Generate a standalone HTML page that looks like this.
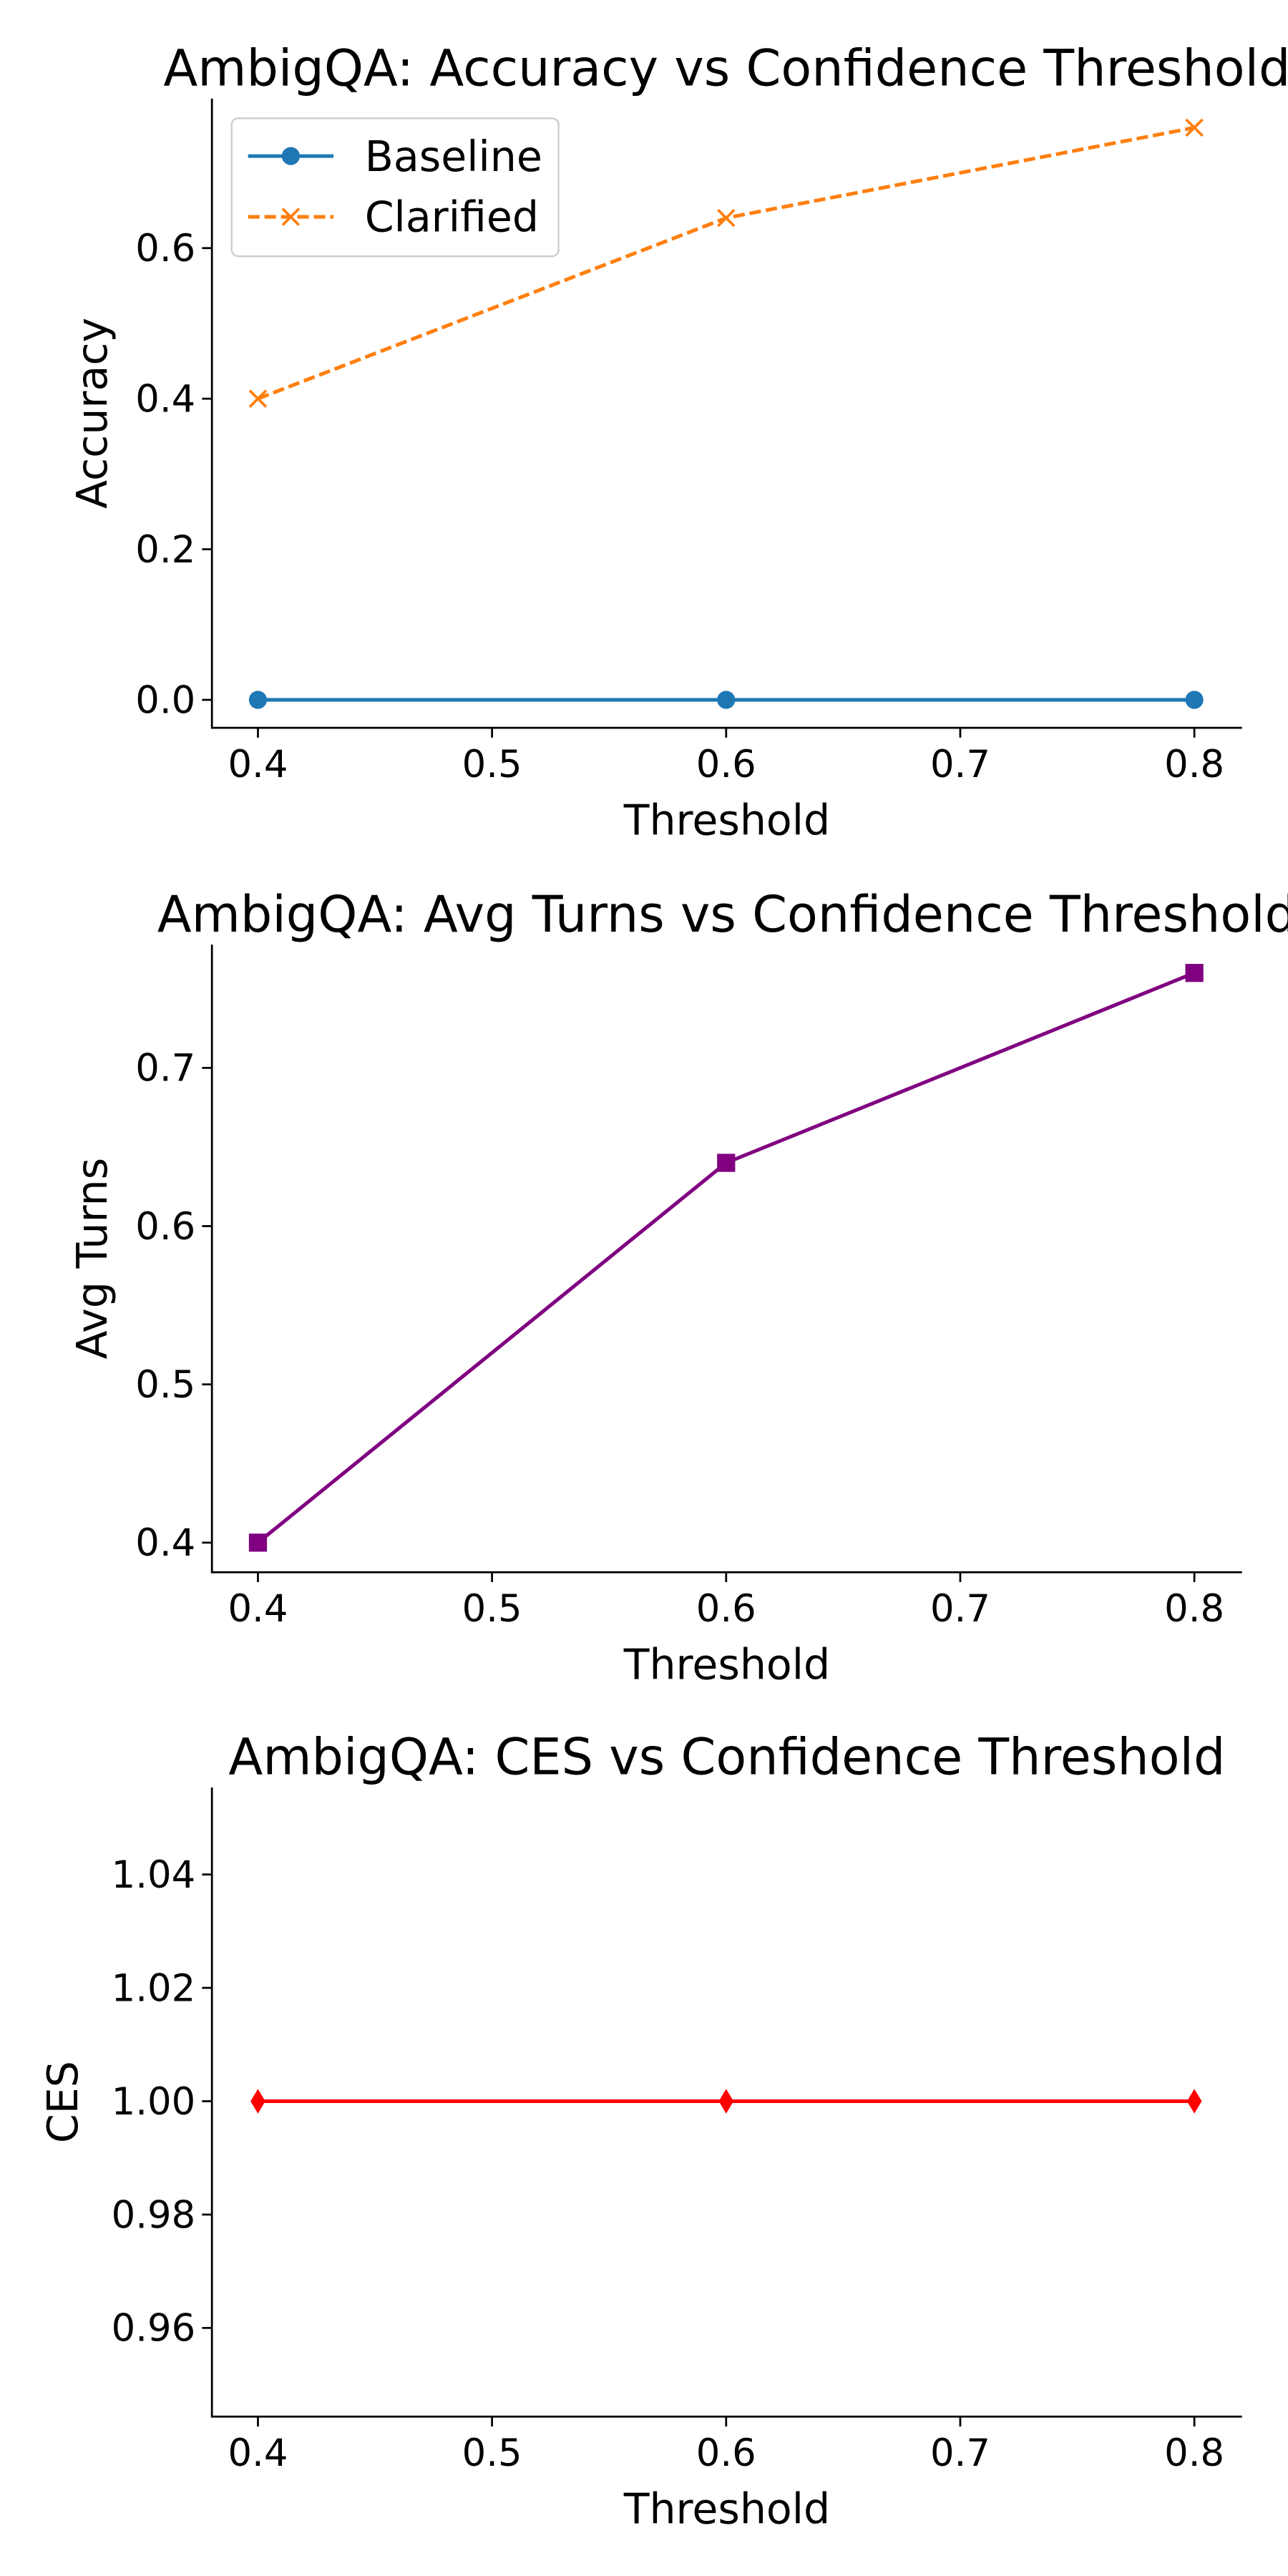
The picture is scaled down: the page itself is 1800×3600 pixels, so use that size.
<!DOCTYPE html>
<html><head><meta charset="utf-8"><style>html,body{margin:0;padding:0;background:#fff}svg{display:block}text{font-family:"DejaVu Sans","Liberation Sans",sans-serif;fill:#000}</style></head>
<body>
<svg id="fig" width="1800" height="3600" viewBox="0 0 784 1568" xmlns="http://www.w3.org/2000/svg"></svg>
<script>
const thresholds = [0.4, 0.6, 0.8];
const xTicks = [0.4, 0.5, 0.6, 0.7, 0.8];
const baselineAcc = [0, 0, 0];
const clarifiedAcc = [0.4, 0.64, 0.76];
const avgTurns = [0.4, 0.64, 0.76];
const cesValues = [1.0, 1.0, 1.0];
const accTicks = [0.0, 0.2, 0.4, 0.6];
const turnsTicks = [0.4, 0.5, 0.6, 0.7];
const cesTicks = [0.96, 0.98, 1.00, 1.02, 1.04];

const NS = 'http://www.w3.org/2000/svg';
const svg = document.getElementById('fig');
function mk(tag, attrs, parent) {
  const e = document.createElementNS(NS, tag);
  for (const k in attrs) e.setAttribute(k, attrs[k]);
  (parent || svg).appendChild(e);
  return e;
}
const L = 129, R = 756;
function xs(v) { return 157 + (v - 0.4) / 0.4 * 570; }

function panel(name, top, bottom, y0v, y0p, perUnit, ticks, dec, title, ylabel) {
  const g = mk('g', {});
  
  
  const ys = v => y0p - (v - y0v) * perUnit;
  const t = mk('text', {x: (L + R) / 2, y: top - 8, 'font-size': 30.5, 'text-anchor': 'middle'}, g);
  t.textContent = title;
  
  
  const ax = mk('path', {d: `M${L},${top}V${bottom}H${R}`, stroke: '#000', 'stroke-width': 1.2, fill: 'none'}, g);
  
  
  xTicks.forEach(v => {
    mk('line', {x1: xs(v), x2: xs(v), y1: bottom, y2: bottom + 6, stroke: '#000', 'stroke-width': 1.2}, g);
    const tx = mk('text', {x: xs(v), y: bottom + 30, 'font-size': 23, 'text-anchor': 'middle'}, g);
    tx.textContent = v.toFixed(1);
    
    
  });
  ticks.forEach(v => {
    mk('line', {x1: L - 6, x2: L, y1: ys(v), y2: ys(v), stroke: '#000', 'stroke-width': 1.2}, g);
    const ty = mk('text', {x: L - 10, y: ys(v) + 8, 'font-size': 23, 'text-anchor': 'end'}, g);
    ty.textContent = v.toFixed(dec);
    
    
  });
  const xl = mk('text', {x: (L + R) / 2, y: bottom + 65, 'font-size': 25.5, 'text-anchor': 'middle'}, g);
  xl.textContent = 'Threshold';
  
  
  const yc = (top + bottom) / 2;
  const ylx = dec === 2 ? 47 : 65;
  const yl = mk('text', {x: ylx, y: yc, 'font-size': 25.5, 'text-anchor': 'middle', transform: `rotate(-90 ${ylx} ${yc})`}, g);
  yl.textContent = ylabel;
  
  
  return {g, ys};
}
function series(g, ys, vals, color, dash, marker, name) {
  const pts = thresholds.map((x, i) => [xs(x), ys(vals[i])]);
  const pl = mk('polyline', {points: pts.map(p => p.join(',')).join(' '), fill: 'none', stroke: color, 'stroke-width': 2.2, 'stroke-dasharray': dash || 'none'}, g);
  
  
  pts.forEach(p => drawMarker(g, p[0], p[1], color, marker, name));
}
function drawMarker(g, x, y, color, marker, name) {
  let m;
  if (marker === 'o') m = mk('circle', {cx: x, cy: y, r: 5.5, fill: color}, g);
  else if (marker === 'x') m = mk('path', {d: `M${x-5},${y-5}L${x+5},${y+5}M${x-5},${y+5}L${x+5},${y-5}`, stroke: color, 'stroke-width': 1.6}, g);
  else if (marker === 's') m = mk('rect', {x: x - 5.5, y: y - 5.5, width: 11, height: 11, fill: color}, g);
  else m = mk('path', {d: `M${x},${y-7.5}L${x+4.5},${y}L${x},${y+7.5}L${x-4.5},${y}Z`, fill: color}, g);
  
  
}

const p1 = panel('accuracy-chart', 60, 443, 0, 426, 458.3, accTicks, 1, 'AmbigQA: Accuracy vs Confidence Threshold', 'Accuracy');
series(p1.g, p1.ys, baselineAcc, '#1f77b4', null, 'o', 'baseline');
series(p1.g, p1.ys, clarifiedAcc, '#ff7f0e', '7,3', 'x', 'clarified');
const lg = mk('g', {}, p1.g);


mk('rect', {x: 141, y: 72, width: 199, height: 84, rx: 4, fill: '#fff', stroke: '#ccc', 'stroke-width': 1}, lg);
[['Baseline', '#1f77b4', null, 'o', 95], ['Clarified', '#ff7f0e', '7,3', 'x', 132]].forEach(([n, c, d, mkr, y]) => {
  mk('line', {x1: 151, x2: 203, y1: y, y2: y, stroke: c, 'stroke-width': 2.2, 'stroke-dasharray': d || 'none'}, lg);
  drawMarker(lg, 177, y, c, mkr, 'legend-' + n.toLowerCase());
  const t = mk('text', {x: 222, y: y + 9, 'font-size': 25.5}, lg);
  t.textContent = n;
  
  
});

const p2 = panel('avg-turns-chart', 575, 957, 0.4, 939, 963.3, turnsTicks, 1, 'AmbigQA: Avg Turns vs Confidence Threshold', 'Avg Turns');
series(p2.g, p2.ys, avgTurns, '#800080', null, 's', 'avg-turns');

const p3 = panel('ces-chart', 1088, 1471, 1.0, 1279, 3450, cesTicks, 2, 'AmbigQA: CES vs Confidence Threshold', 'CES');
series(p3.g, p3.ys, cesValues, '#ff0000', null, 'd', 'ces');
</script>
</body></html>
